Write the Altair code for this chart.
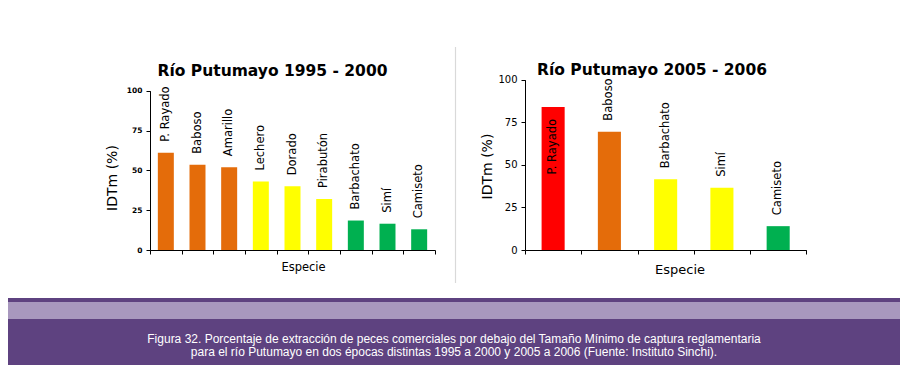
import altair as alt
import pandas as pd

# ---------------- data ----------------
titulo_1 = "Río Putumayo 1995 - 2000"
especies_1 = ["P. Rayado", "Baboso", "Amarillo", "Lechero", "Dorado",
              "Pirabutón", "Barbachato", "Simí", "Camiseto"]
idtm_1 = [61, 53.5, 52, 43, 40, 32, 18.5, 16.5, 13]
colores_1 = ["#E46C0A", "#E46C0A", "#E46C0A", "#FFFF00", "#FFFF00",
             "#FFFF00", "#00B050", "#00B050", "#00B050"]

titulo_2 = "Río Putumayo 2005 - 2006"
especies_2 = ["P. Rayado", "Baboso", "Barbachato", "Simí", "Camiseto"]
idtm_2 = [84, 69.5, 41.5, 36.5, 14]
colores_2 = ["#FF0000", "#E46C0A", "#FFFF00", "#FFFF00", "#00B050"]
etiqueta_dentro_2 = [True, False, False, False, False]

ticks_y = [0, 25, 50, 75, 100]
titulo_x = "Especie"
titulo_y = "IDTm (%)"
pie = ["Figura 32. Porcentaje de extracción de peces comerciales por debajo del Tamaño Mínimo de captura reglamentaria",
       "para el río Putumayo en dos épocas distintas 1995 a 2000 y 2005 a 2006 (Fuente: Instituto Sinchi)."]

FONT = "DejaVu Sans"
PURPLE = "#5E4280"

df1 = pd.DataFrame({"especie": especies_1, "idtm": idtm_1, "color": colores_1})
df2 = pd.DataFrame({"especie": especies_2, "idtm": idtm_2, "color": colores_2,
                    "dentro": etiqueta_dentro_2})

# ---------------- left panel ----------------
x1 = alt.X("especie:N", sort=especies_1,
           scale=alt.Scale(range=[142, 427], paddingInner=0, paddingOuter=0),
           axis=alt.Axis(orient="bottom", offset=-115, labels=False, ticks=True,
                         tickBand="extent", tickSize=4, tickColor="black",
                         domainColor="black", title=titulo_x, titleFont=FONT,
                         titleFontSize=11.5, titleFontWeight="normal",
                         titleColor="black", titleX=295, titleY=17.5,
                         titleBaseline="middle", titleAlign="center"))
y1 = alt.Y("idtm:Q", scale=alt.Scale(domain=[0, 100], range=[242, 82.7], nice=False),
           axis=alt.Axis(orient="left", offset=-142, values=ticks_y, tickSize=4,
                         tickColor="black", domainColor="black", grid=False,
                         labelFont=FONT, labelFontSize=7.5, labelFontWeight="bold",
                         labelColor="black", labelPadding=4,
                         title=titulo_y, titleFont=FONT, titleFontSize=14,
                         titleFontWeight="normal", titleColor="black",
                         titleX=-38, titleY=169.5, titleAngle=270,
                         titleBaseline="middle", titleAlign="center"))

bars1 = alt.Chart(df1).mark_bar(width=alt.RelativeBandSize(0.505)).encode(
    x=x1, y=y1, color=alt.Color("color:N", scale=None))
labels1 = alt.Chart(df1).mark_text(angle=270, align="left", baseline="middle",
                                   dx=11, font=FONT, fontSize=11.5, color="black").encode(
    x=x1, y=y1, text="especie:N")
left = alt.layer(bars1, labels1)

# ---------------- right panel ----------------
x2 = alt.X("especie:N", sort=especies_2,
           scale=alt.Scale(range=[517, 798.3], paddingInner=0, paddingOuter=0),
           axis=alt.Axis(orient="bottom", offset=-115, labels=False, ticks=True,
                         tickBand="extent", tickSize=4, tickColor="black",
                         domainColor="black", title=titulo_x, titleFont=FONT,
                         titleFontSize=13, titleFontWeight="normal",
                         titleColor="black", titleX=671.5, titleY=19,
                         titleBaseline="middle", titleAlign="center"))
y2 = alt.Y("idtm:Q", scale=alt.Scale(domain=[0, 100], range=[242, 71.7], nice=False),
           axis=alt.Axis(orient="left", offset=-517, values=ticks_y, tickSize=4,
                         tickColor="black", domainColor="black", grid=False,
                         labelFont=FONT, labelFontSize=10, labelFontWeight="normal",
                         labelColor="black", labelPadding=4,
                         title=titulo_y, titleFont=FONT, titleFontSize=14,
                         titleFontWeight="normal", titleColor="black",
                         titleX=-38, titleY=158, titleAngle=270,
                         titleBaseline="middle", titleAlign="center"))

bars2 = alt.Chart(df2).mark_bar(width=alt.RelativeBandSize(0.41)).encode(
    x=x2, y=y2, color=alt.Color("color:N", scale=None))
labels2_out = alt.Chart(df2).transform_filter("!datum.dentro").mark_text(
    angle=270, align="left", baseline="middle", dx=11, font=FONT,
    fontSize=11.5, color="black").encode(x=x2, y=y2, text="especie:N")
labels2_in = alt.Chart(df2).transform_filter("datum.dentro").mark_text(
    angle=270, align="right", baseline="middle", dx=-12, font=FONT,
    fontSize=11.5, color="black").encode(x=x2, y=y2, text="especie:N")
right = alt.layer(bars2, labels2_out, labels2_in)

# ---------------- decoration & texts ----------------
one = pd.DataFrame({"k": [0]})
band = alt.Chart(one).mark_rect(color=PURPLE).encode(
    x=alt.value(0), x2=alt.value(892), y=alt.value(290), y2=alt.value(357))
pattern = alt.Chart(one).mark_rect(color="#A898BE").encode(
    x=alt.value(0), x2=alt.value(892), y=alt.value(294), y2=alt.value(311))
divider = alt.Chart(one).mark_rule(color="#D9D9D9", strokeWidth=1.2).encode(
    x=alt.value(447.5), y=alt.value(39), y2=alt.value(275))

t1 = alt.Chart(pd.DataFrame({"t": [titulo_1]})).mark_text(
    font=FONT, fontSize=15.5, fontWeight="bold", align="center",
    baseline="alphabetic", color="black").encode(
    text="t:N", x=alt.value(264.5), y=alt.value(68))
t2 = alt.Chart(pd.DataFrame({"t": [titulo_2]})).mark_text(
    font=FONT, fontSize=15.5, fontWeight="bold", align="center",
    baseline="alphabetic", color="black").encode(
    text="t:N", x=alt.value(644), y=alt.value(67))

cap1 = alt.Chart(pd.DataFrame({"t": [pie[0]]})).mark_text(
    font="Liberation Sans", fontSize=12, align="center", baseline="alphabetic",
    color="white").encode(text="t:N", x=alt.value(446), y=alt.value(335))
cap2 = alt.Chart(pd.DataFrame({"t": [pie[1]]})).mark_text(
    font="Liberation Sans", fontSize=12, align="center", baseline="alphabetic",
    color="white").encode(text="t:N", x=alt.value(446), y=alt.value(348))

chart = alt.layer(band, pattern, divider, t1, t2, left, right, cap1, cap2).resolve_scale(
    x="independent", y="independent").resolve_axis(
    x="independent", y="independent").properties(
    width=892, height=357, autosize=alt.AutoSizeParams(type="none"), padding=0,
    background="white").configure_view(stroke=None)

chart.save("out.html", embed_options={"renderer": "svg", "actions": False})
